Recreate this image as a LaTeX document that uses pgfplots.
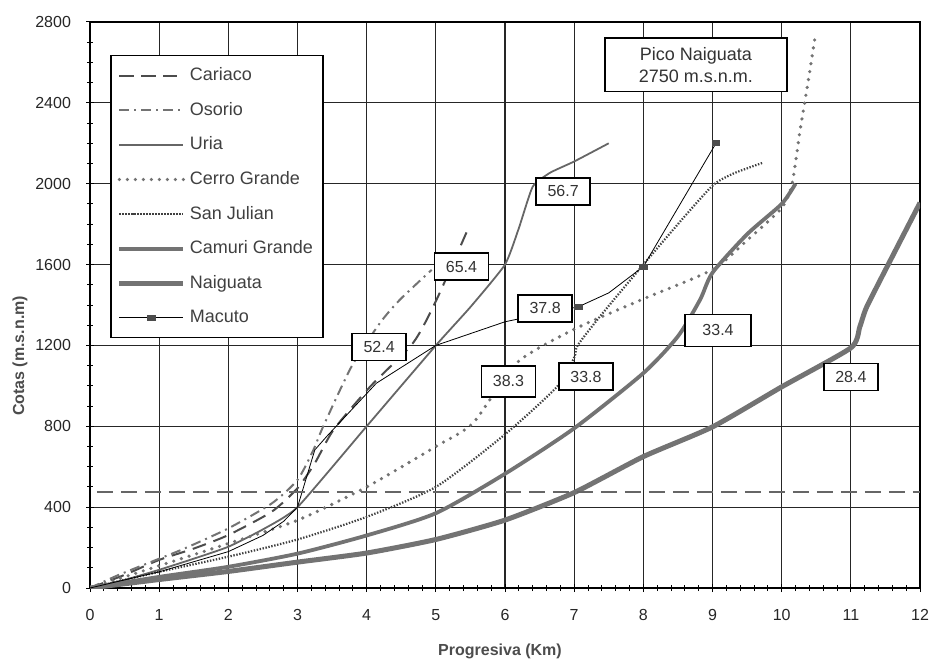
\documentclass[border=0pt]{standalone}
\usepackage{pgfplots}
\pgfplotsset{compat=1.18}
\usepackage{fontspec}
\setmainfont{Liberation Sans}
\tikzset{lbl/.style={draw=black, line width=0.8pt, fill=white, font=\fontsize{8}{9}\selectfont,
    text=black!80, minimum width=27pt, minimum height=13.5pt, inner sep=1pt}}
\begin{document}
\begin{tikzpicture}
\begin{axis}[
  scale only axis, width=415pt, height=283pt,
  xmin=0, xmax=12, ymin=0, ymax=2800,
  xtick={0,1,...,12}, ytick={0,400,...,2800},
  minor y tick num=3, minor x tick num=4,
  grid=major, major grid style={black!85, line width=0.55pt},
  axis line style={black, line width=0.7pt},
  tick style={black, line width=0.5pt},
  major tick length=4pt, minor tick length=3pt,
  tick align=center, tick pos=left,
  /pgf/number format/assume math mode=true,
  /pgf/number format/1000 sep={},
  ticklabel style={font=\fontsize{8}{9}\selectfont, text=black!85},
  xticklabel style={yshift=-5pt},
  yticklabel style={xshift=-4pt},
  xlabel={Progresiva (Km)}, ylabel={Cotas (m.s.n.m)},
  label style={font=\fontsize{8}{9}\selectfont\bfseries, text=black!70},
  xlabel style={at={(axis description cs:0.494,0)}, anchor=center, yshift=-31.5pt},
  ylabel style={at={(axis description cs:-0.0843,0.41)}, anchor=center, rotate=0},
  legend style={at={(axis cs:0.29,2638)}, anchor=north west, draw=black, line width=0.8pt,
    fill=white, font=\fontsize{9}{10}\selectfont, text=black!75, cells={anchor=west},
    row sep=5.3pt, inner xsep=3pt, inner ysep=4pt},
  legend image code/.code={\draw[mark repeat=2, mark phase=2, #1] plot coordinates {(0pt,0pt) (16pt,0pt) (32pt,0pt)};},
]
% Cariaco
\addplot[black!70, line width=1pt, dash pattern=on 7pt off 4pt, smooth, tension=0.4] coordinates {
 (0,0) (0.5,65) (1,139) (1.5,195) (2,262) (2.63,378) (3,494) (3.25,617) (3.52,782) (4.05,996) (4.67,1212) (5.01,1426) (5.47,1780)};
\addlegendentry{Cariaco}
% Osorio
\addplot[black!55, line width=1pt, dash pattern=on 5pt off 2.5pt on 1pt off 2.5pt, smooth, tension=0.4] coordinates {
 (0,0) (0.41,64) (1,145) (1.37,196) (2,295) (2.63,419) (3,535) (3.23,683) (3.37,798) (3.78,1095) (4.19,1310) (4.48,1426) (4.94,1574)};
\addlegendentry{Osorio}
% Uria
\addplot[black!60, line width=0.9pt, smooth, tension=0.3] coordinates {
 (0,0) (0.5,40) (1,90) (1.5,145) (2,204) (2.5,290) (3,400) (4,800) (5,1200) (5.5,1390) (6,1600) (6.2,1780) (6.4,1985) (6.65,2054) (7,2110) (7.5,2200)};
\addlegendentry{Uria}
% Cerro Grande
\addplot[black!55, line width=1.8pt, dash pattern=on 0pt off 4pt, line cap=round, smooth, tension=0.4] coordinates {
 (0,0) (1,110) (2,220) (3,335) (4,500) (5,700) (5.54,817) (6.17,1114) (7,1280) (8,1430) (9,1575) (9.5,1720) (10,1880) (10.15,2000) (10.26,2250) (10.38,2500) (10.48,2720)};
\addlegendentry{Cerro Grande}
% San Julian
\addplot[black!75, line width=1.1pt, dash pattern=on 0.7pt off 0.8pt, smooth, tension=0.4] coordinates {
 (0,0) (1,80) (2,155) (3,240) (4,352) (5,500) (6,760) (6.75,995) (7.0,1140) (7.05,1200) (7.37,1342) (8,1600) (8.5,1800) (9,1990) (9.3,2050) (9.73,2104)};
\addlegendentry{San Julian}
% Camuri Grande
\addplot[black!55, line width=1.9pt, smooth, tension=0.4] coordinates {
 (0,0) (1,55) (2,105) (3,170) (4,260) (5,370) (6,565) (7,790) (8,1063) (8.5,1245) (8.82,1426) (9,1560) (9.5,1750) (10,1900) (10.2,2000)};
\addlegendentry{Camuri Grande}
% Naiguata
\addplot[black!55, line width=2.5pt, smooth, tension=0.35] coordinates {
 (0,0) (1,42) (2,82) (3,128) (4,173) (5,240) (6,336) (7,472) (8,650) (9,797) (10,995) (11,1188) (11.13,1292) (11.23,1391) (11.6,1640) (12,1906)};
\addlegendentry{Naiguata}
% Macuto
\addplot[black, line width=0.4pt, mark=square*, mark size=1.2pt, mark options={black!70, xscale=1.5}, mark indices={13,15,16}, forget plot] coordinates {
 (0,0) (1,80) (2,180) (2.5,260) (2.8,330) (3,400) (3.25,683) (3.42,749) (4.14,1013) (5,1200) (6,1317) (6.6,1360) (7.06,1391) (7.5,1460) (8,1590) (9.05,2200)};
\addlegendimage{black, line width=0.4pt, mark=square*, mark size=1.2pt, mark options={black!70, xscale=1.5}}
\addlegendentry{Macuto}
% reference line
\addplot[black!60, line width=1.2pt, dash pattern=on 8pt off 4pt, forget plot] coordinates {(0.1,475) (12,475)};
% labels
\node[lbl] at (axis cs:4.18,1193) {52.4};
\node[lbl] at (axis cs:5.37,1590) {65.4};
\node[lbl] at (axis cs:6.84,1962) {56.7};
\node[lbl] at (axis cs:6.58,1384) {37.8};
\node[lbl, minimum height=15.5pt] at (axis cs:6.05,1023) {38.3};
\node[lbl] at (axis cs:7.17,1046) {33.8};
\node[lbl, minimum width=33pt, minimum height=16pt] at (axis cs:9.08,1274) {33.4};
\node[lbl] at (axis cs:11.0,1043) {28.4};
\node[lbl, font=\fontsize{9}{11}\selectfont, align=center, minimum width=91pt, minimum height=26.7pt] at (axis cs:8.76,2589) {Pico Naiguata\\2750 m.s.n.m.};
\end{axis}
\pgfresetboundingbox
\path (-45pt,-35.5pt) rectangle (423pt,294pt);
\end{tikzpicture}
\end{document}
